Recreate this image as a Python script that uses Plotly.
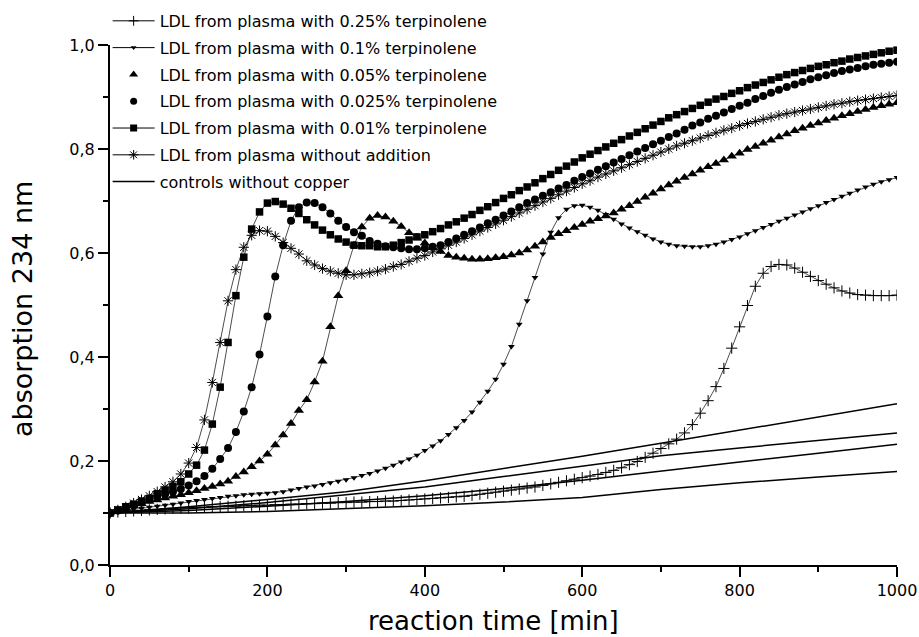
import plotly.graph_objects as go

# reaction time grid (min), sampling every 10 min
t = list(range(0, 1001, 10))

# LDL from plasma with 0.25% terpinolene
v_025 = [0.100, 0.102, 0.103, 0.104, 0.105, 0.106, 0.107, 0.108, 0.109, 0.110,
         0.110, 0.111, 0.111, 0.112, 0.112, 0.113, 0.113, 0.114, 0.114, 0.115,
         0.115, 0.116, 0.116, 0.117, 0.117, 0.118, 0.118, 0.119, 0.119, 0.120,
         0.120, 0.121, 0.121, 0.122, 0.122, 0.123, 0.123, 0.124, 0.125, 0.126,
         0.127, 0.128, 0.129, 0.130, 0.131, 0.132, 0.134, 0.136, 0.138, 0.140,
         0.142, 0.144, 0.146, 0.148, 0.150, 0.153, 0.156, 0.159, 0.162, 0.165,
         0.168, 0.171, 0.174, 0.178, 0.182, 0.187, 0.193, 0.199, 0.207, 0.215,
         0.224, 0.233, 0.242, 0.254, 0.270, 0.292, 0.316, 0.343, 0.378, 0.417,
         0.458, 0.499, 0.536, 0.561, 0.574, 0.578, 0.577, 0.571, 0.563, 0.555,
         0.547, 0.540, 0.533, 0.527, 0.523, 0.520, 0.519, 0.518, 0.518, 0.518,
         0.519]

# LDL from plasma with 0.1% terpinolene
v_01 = [0.100, 0.103, 0.105, 0.107, 0.109, 0.111, 0.113, 0.115, 0.117, 0.119,
        0.122, 0.124, 0.126, 0.128, 0.130, 0.132, 0.133, 0.135, 0.136, 0.137,
        0.138, 0.139, 0.141, 0.144, 0.147, 0.150, 0.152, 0.155, 0.158, 0.161,
        0.164, 0.168, 0.172, 0.176, 0.181, 0.186, 0.192, 0.198, 0.204, 0.211,
        0.220, 0.229, 0.239, 0.251, 0.264, 0.278, 0.294, 0.313, 0.334, 0.357,
        0.386, 0.420, 0.463, 0.508, 0.553, 0.598, 0.640, 0.668, 0.684, 0.691,
        0.692, 0.688, 0.682, 0.674, 0.665, 0.656, 0.648, 0.641, 0.634, 0.627,
        0.621, 0.617, 0.614, 0.613, 0.612, 0.612, 0.614, 0.617, 0.621, 0.626,
        0.631, 0.637, 0.643, 0.649, 0.655, 0.661, 0.667, 0.673, 0.679, 0.685,
        0.691, 0.697, 0.703, 0.709, 0.715, 0.721, 0.727, 0.732, 0.737, 0.741,
        0.745]

# LDL from plasma with 0.05% terpinolene
v_005 = [0.100, 0.105, 0.110, 0.114, 0.118, 0.122, 0.125, 0.129, 0.132, 0.135,
         0.139, 0.143, 0.147, 0.151, 0.156, 0.161, 0.170, 0.179, 0.189, 0.200,
         0.213, 0.231, 0.250, 0.272, 0.297, 0.318, 0.352, 0.392, 0.458, 0.518,
         0.566, 0.615, 0.650, 0.667, 0.672, 0.669, 0.661, 0.651, 0.639, 0.630,
         0.619, 0.610, 0.603, 0.595, 0.592, 0.590, 0.588, 0.588, 0.589, 0.591,
         0.593, 0.596, 0.600, 0.606, 0.613, 0.621, 0.630, 0.637, 0.643, 0.649,
         0.655, 0.661, 0.666, 0.671, 0.677, 0.684, 0.691, 0.699, 0.707, 0.715,
         0.723, 0.731, 0.738, 0.745, 0.752, 0.759, 0.766, 0.772, 0.779, 0.786,
         0.792, 0.799, 0.805, 0.811, 0.817, 0.823, 0.829, 0.835, 0.840, 0.845,
         0.850, 0.855, 0.859, 0.864, 0.868, 0.872, 0.876, 0.880, 0.883, 0.886,
         0.889]

# LDL from plasma with 0.025% terpinolene
v_0025 = [0.100, 0.105, 0.110, 0.115, 0.120, 0.126, 0.131, 0.136, 0.141, 0.146,
          0.153, 0.161, 0.171, 0.185, 0.204, 0.225, 0.256, 0.295, 0.342, 0.405,
          0.478, 0.555, 0.615, 0.662, 0.688, 0.697, 0.696, 0.688, 0.676, 0.662,
          0.650, 0.640, 0.633, 0.623, 0.618, 0.613, 0.611, 0.609, 0.607, 0.607,
          0.609, 0.612, 0.615, 0.621, 0.628, 0.635, 0.642, 0.649, 0.657, 0.664,
          0.672, 0.680, 0.688, 0.696, 0.703, 0.710, 0.717, 0.724, 0.731, 0.739,
          0.746, 0.753, 0.760, 0.767, 0.774, 0.781, 0.788, 0.795, 0.802, 0.809,
          0.816, 0.823, 0.830, 0.837, 0.845, 0.851, 0.858, 0.864, 0.870, 0.877,
          0.883, 0.889, 0.896, 0.902, 0.908, 0.914, 0.919, 0.924, 0.929, 0.934,
          0.938, 0.942, 0.946, 0.950, 0.953, 0.956, 0.959, 0.962, 0.964, 0.966,
          0.968]

# LDL from plasma with 0.01% terpinolene
v_001 = [0.100, 0.106, 0.112, 0.117, 0.123, 0.128, 0.137, 0.144, 0.151, 0.160,
         0.175, 0.192, 0.221, 0.271, 0.342, 0.428, 0.518, 0.592, 0.646, 0.679,
         0.696, 0.699, 0.694, 0.686, 0.676, 0.664, 0.654, 0.644, 0.635, 0.627,
         0.621, 0.615, 0.614, 0.614, 0.612, 0.612, 0.615, 0.620, 0.625, 0.631,
         0.635, 0.641, 0.647, 0.654, 0.660, 0.667, 0.674, 0.682, 0.689, 0.697,
         0.705, 0.712, 0.720, 0.727, 0.735, 0.743, 0.751, 0.759, 0.767, 0.775,
         0.783, 0.790, 0.797, 0.804, 0.811, 0.818, 0.825, 0.832, 0.839, 0.846,
         0.853, 0.860, 0.866, 0.872, 0.878, 0.884, 0.890, 0.896, 0.901, 0.907,
         0.912, 0.918, 0.923, 0.928, 0.933, 0.938, 0.943, 0.947, 0.951, 0.955,
         0.959, 0.962, 0.966, 0.969, 0.973, 0.976, 0.979, 0.982, 0.985, 0.988,
         0.990]

# LDL from plasma without addition
v_none = [0.100, 0.106, 0.112, 0.119, 0.126, 0.133, 0.141, 0.150, 0.160, 0.175,
          0.196, 0.226, 0.279, 0.351, 0.428, 0.508, 0.568, 0.611, 0.634, 0.643,
          0.642, 0.632, 0.620, 0.609, 0.598, 0.585, 0.577, 0.570, 0.565, 0.561,
          0.558, 0.558, 0.560, 0.562, 0.565, 0.569, 0.574, 0.578, 0.584, 0.590,
          0.595, 0.602, 0.608, 0.615, 0.621, 0.628, 0.635, 0.642, 0.649, 0.656,
          0.663, 0.670, 0.677, 0.684, 0.691, 0.698, 0.705, 0.712, 0.719, 0.726,
          0.733, 0.739, 0.746, 0.752, 0.758, 0.764, 0.770, 0.776, 0.782, 0.788,
          0.794, 0.800, 0.806, 0.811, 0.816, 0.821, 0.826, 0.831, 0.836, 0.840,
          0.845, 0.849, 0.853, 0.857, 0.861, 0.865, 0.868, 0.871, 0.874, 0.877,
          0.880, 0.883, 0.886, 0.888, 0.891, 0.893, 0.895, 0.897, 0.899, 0.901,
          0.903]

# controls without copper (4 lines)
t_ctrl = [0, 100, 200, 300, 400, 500, 600, 700, 800, 900, 1000]
ctrl_1 = [0.100, 0.112, 0.126, 0.141, 0.162, 0.185, 0.209, 0.234, 0.259, 0.285, 0.310]
ctrl_2 = [0.100, 0.108, 0.120, 0.135, 0.150, 0.170, 0.190, 0.210, 0.225, 0.240, 0.254]
ctrl_3 = [0.100, 0.105, 0.113, 0.122, 0.133, 0.147, 0.163, 0.181, 0.198, 0.215, 0.232]
ctrl_4 = [0.100, 0.100, 0.103, 0.108, 0.114, 0.121, 0.130, 0.145, 0.158, 0.169, 0.180]

names = ["LDL from plasma with 0.25% terpinolene",
         "LDL from plasma with 0.1% terpinolene",
         "LDL from plasma with 0.05% terpinolene",
         "LDL from plasma with 0.025% terpinolene",
         "LDL from plasma with 0.01% terpinolene",
         "LDL from plasma without addition",
         "controls without copper"]

series = [v_025, v_01, v_005, v_0025, v_001, v_none]
symbols = ["cross-thin", "triangle-down", "triangle-up", "circle", "square", "asterisk-open"]
sizes = [8, 6, 9, 8, 7.5, 8.5]
legend_sizes = [7, 5, 8, 7, 7, 8]
legend_lines = [True, True, False, False, True, True]

FONT = "DejaVu Sans, sans-serif"

fig = go.Figure()

# controls drawn first (underneath)
for c in [ctrl_1, ctrl_2, ctrl_3, ctrl_4]:
    fig.add_trace(go.Scatter(x=t_ctrl, y=c, mode="lines", line=dict(color="black", width=1.5),
                             showlegend=False, hoverinfo="skip"))

for vals, sym, sz in zip(series, symbols, sizes):
    open_sym = sym in ("cross-thin", "asterisk-open")
    fig.add_trace(go.Scatter(
        x=t, y=vals, mode="lines+markers",
        line=dict(color="black", width=0.7),
        marker=dict(symbol=sym, size=sz, color="black",
                    line=dict(color="black", width=1 if open_sym else 0)),
        showlegend=False))

# legend entries
for k in range(6):
    open_sym = symbols[k] in ("cross-thin", "asterisk-open")
    fig.add_trace(go.Scatter(
        x=[None], y=[None], name=names[k], legendgroup=f"g{k}",
        mode="lines+markers" if legend_lines[k] else "markers",
        line=dict(color="black", width=1),
        marker=dict(symbol=symbols[k], size=legend_sizes[k], color="black",
                    line=dict(color="black", width=1 if open_sym else 0))))
fig.add_trace(go.Scatter(x=[None], y=[None], name=names[6], legendgroup="g6",
                         mode="lines", line=dict(color="black", width=1.5)))

axis_common = dict(
    showline=True, linecolor="black", linewidth=2, mirror=False,
    ticks="outside", ticklen=10, tickwidth=2, tickcolor="black",
    showgrid=False, zeroline=False,
    tickfont=dict(family=FONT, size=16, color="black"),
)

fig.update_xaxes(range=[0, 1000], dtick=200, tick0=0,
                 minor=dict(ticks="outside", ticklen=5, tickwidth=2, tickcolor="black", dtick=100),
                 **axis_common)
fig.update_yaxes(range=[0, 1.0], dtick=0.2, tick0=0, tickformat=".1f",
                 minor=dict(ticks="outside", ticklen=5, tickwidth=2, tickcolor="black", dtick=0.1),
                 **axis_common)

fig.add_annotation(text="reaction time [min]", xref="paper", yref="paper",
                   x=0.487, y=-0.108, xanchor="center", yanchor="middle",
                   showarrow=False, font=dict(family=FONT, size=26, color="black"))
fig.add_annotation(text="absorption 234 nm", xref="paper", yref="paper",
                   x=-0.112, y=0.492, xanchor="center", yanchor="middle", textangle=-90,
                   showarrow=False, font=dict(family=FONT, size=27, color="black"))

fig.update_layout(
    width=919, height=637,
    margin=dict(l=110, r=22, t=45, b=72, autoexpand=False),
    paper_bgcolor="white", plot_bgcolor="white",
    separators=",.",
    legend=dict(x=-0.003, y=1.079, xanchor="left", yanchor="top",
                traceorder="grouped", tracegroupgap=3, itemwidth=42,
                bgcolor="rgba(0,0,0,0)",
                font=dict(family=FONT, size=16, color="black")),
)

fig.write_html("out.html")
